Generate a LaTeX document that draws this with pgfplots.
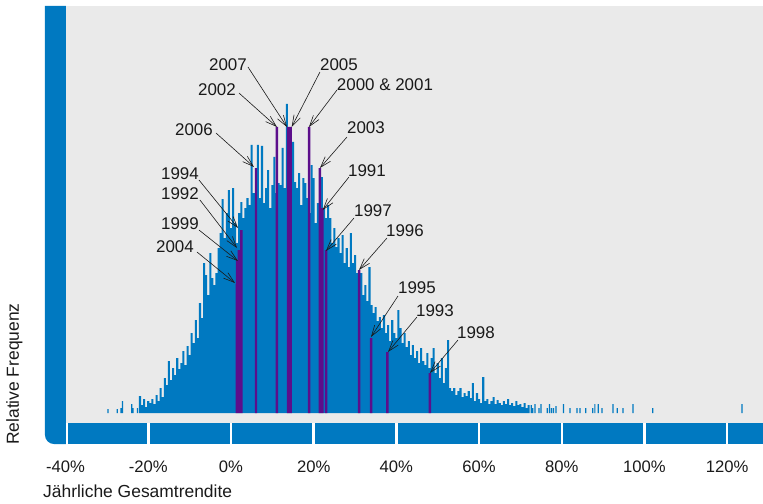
\documentclass[border=0pt]{standalone}
\usepackage{fontspec}
\setmainfont{Liberation Sans}
\usepackage{pgfplots}
\usepackage{pgfplotstable}
\pgfplotsset{compat=1.18}
\usetikzlibrary{arrows.meta}
\definecolor{barblue}{RGB}{0,121,193}
\definecolor{barpurple}{RGB}{92,14,139}
\definecolor{bggray}{RGB}{234,234,234}
\definecolor{txt}{RGB}{26,26,26}

\pgfplotstableread{
x y
-22.0 17
-21.5 8
-21.0 14
-20.5 6
-20.0 12
-19.5 10
-19.0 14
-18.5 9
-18.0 18
-17.5 12
-17.0 25
-16.5 16
-16.0 35
-15.5 28
-15.0 52
-14.5 33
-14.0 45
-13.5 38
-13.0 55
-12.5 44
-12.0 50
-11.5 62
-11.0 48
-10.5 67
-10.0 58
-9.5 80
-9.0 70
-8.5 93
-8.0 75
-7.5 110
-7.0 95
-6.5 150
-6.0 138
-5.5 118
-5.0 160
-4.5 135
-4.0 128
-3.5 140
-3.0 165
-2.5 180
-2.0 214
-1.5 175
-1.0 200
-0.5 223
0.0 185
0.5 225
1.0 190
1.5 170
2.0 200
2.5 211
3.0 195
3.5 205
4.0 215
4.5 208
5.0 268
5.5 220
6.0 200
6.5 268
7.0 215
7.5 267
8.0 210
8.5 225
9.0 243
9.5 205
10.0 228
10.5 256
11.0 220
11.5 230
12.0 228
12.5 265
13.0 225
13.5 309
14.0 230
14.5 240
15.0 271
15.5 231
16.0 225
16.5 240
17.0 208
17.5 235
18.0 230
18.5 215
19.0 200
19.5 248
20.0 235
20.5 190
21.0 210
21.5 200
22.0 236
22.5 205
23.0 195
23.5 208
24.0 195
24.5 170
25.0 185
25.5 166
26.0 175
26.5 160
27.0 178
27.5 150
28.0 165
28.5 146
29.0 180
29.5 150
30.0 158
30.5 140
31.0 135
31.5 140
32.0 118
32.5 128
33.0 112
33.5 146
34.0 108
34.5 100
35.0 106
35.5 92
36.0 96
36.5 85
37.0 98
37.5 80
38.0 88
38.5 72
39.0 93
39.5 80
40.0 75
40.5 103
41.0 85
41.5 70
42.0 80
42.5 66
43.0 72
43.5 58
44.0 68
44.5 55
45.0 62
45.5 50
46.0 65
46.5 52
47.0 48
47.5 60
48.0 45
48.5 55
49.0 65
49.5 40
50.0 50
50.5 35
51.0 55
51.5 30
52.0 45
52.5 73
53.0 25
53.5 22
54.0 25
54.5 18
55.0 22
55.5 25
56.0 16
56.5 20
57.0 17
57.5 22
58.0 15
58.5 30
59.0 12
59.5 20
60.0 14
60.5 10
61.0 36
61.5 12
62.0 14
62.5 9
63.0 12
63.5 16
64.0 9
64.5 13
65.0 10
65.5 8
66.0 12
66.5 9
67.0 14
67.5 8
68.0 10
68.5 7
69.0 12
69.5 8
70.0 9
70.5 6
71.0 10
71.5 5
72.0 8
}\bluedata

\pgfplotstableread{
x y
-29.75 4
-27.5 4
-26.6 5
-26.25 12
-24.0 9
-23.7 5
-22.6 5
72.6 8
73.0 5
73.5 9
74.5 5
75.0 9
76.5 5
77.0 9
77.5 5
78.0 5
78.6 7
80.4 9
82.0 5
83.7 5
84.4 5
85.8 5
87.5 5
88.0 9
88.8 9
89.7 5
92.4 9
93.4 5
94.8 5
97.2 9
102.0 5
123.6 9
}\sparsedata

\pgfplotstableread{
x y
1.45 129
1.5 153
1.9 163
2.5 183
6.05 245
11.1 286
13.8 286
14.4 286
18.9 286
21.5 245
22.1 205
23.0 163
31.0 143
33.9 75
37.8 61
48.1 40
}\purpledata

\begin{document}
\begin{tikzpicture}
\begin{axis}[
  scale only axis, width=697.4bp, height=417bp,
  xmin=-40, xmax=128.66, ymin=-10, ymax=407,
  axis background/.style={fill=bggray},
  axis line style={draw=none}, tick style={draw=none},
  ytick=\empty,
  xtick={-40,-20,...,120},
  xticklabels={-40\%,-20\%,0\%,20\%,40\%,60\%,80\%,100\%,120\%},
  xticklabel style={anchor=base, yshift=-45bp, font=\fontsize{16.7}{18}\selectfont, text=txt},
  clip=false,
  ybar,
]
\addplot[fill=barblue, draw=none, bar width=0.5, bar shift=0pt] table {\bluedata};
\addplot[fill=barblue, draw=none, bar width=0.3, bar shift=0pt] table {\sparsedata};
\addplot[fill=barpurple, draw=none, bar width=0.6, bar shift=0pt] table {\purpledata};

% left bar (rounded bottom-left corner) and bottom bar
\fill[barblue] (axis cs:-39.9,407) -- (axis cs:-44.98,407) -- ([yshift=9bp]axis cs:-44.98,-31) arc[start angle=180, end angle=270, radius=9bp] -- (axis cs:-39.9,-31) -- cycle;
\fill[barblue] (axis cs:-39.5,-10) rectangle (axis cs:-20.3,-31);
\fill[barblue] (axis cs:-19.7,-10) rectangle (axis cs:-0.3,-31);
\fill[barblue] (axis cs:0.3,-10) rectangle (axis cs:19.7,-31);
\fill[barblue] (axis cs:20.3,-10) rectangle (axis cs:39.7,-31);
\fill[barblue] (axis cs:40.3,-10) rectangle (axis cs:59.7,-31);
\fill[barblue] (axis cs:60.3,-10) rectangle (axis cs:79.7,-31);
\fill[barblue] (axis cs:80.3,-10) rectangle (axis cs:99.7,-31);
\fill[barblue] (axis cs:100.3,-10) rectangle (axis cs:119.7,-31);
\fill[barblue] (axis cs:120.3,-10) rectangle (axis cs:128.66,-31);

% axis labels
\node[rotate=90, anchor=base west, inner sep=0pt, font=\fontsize{17.5}{19}\selectfont, text=txt] at (axis cs:-51.27,-32) {Relative Frequenz};
\node[anchor=base west, inner sep=0pt, font=\fontsize{17.5}{19}\selectfont, text=txt] at (axis cs:-45.47,-84) {Jährliche Gesamtrendite};

% annotations
\tikzset{ann/.style={font=\fontsize{17}{19}\selectfont, text=txt, inner sep=0pt},
         arr/.style={draw=txt, line width=0.6bp, -{Straight Barb[length=11bp,width=7bp]}}}
\node[ann] at (axis cs:-0.73,348) {2007};
\draw[arr] (axis cs:4.11,346) -- (axis cs:13.54,286);
\node[ann] at (axis cs:-3.39,323) {2002};
\draw[arr] (axis cs:1.93,320) -- (axis cs:11.12,286);
\node[ann] at (axis cs:26.12,348) {2005};
\draw[arr] (axis cs:21.52,341) -- (axis cs:14.68,286);
\node[ann] at (axis cs:37.24,328) {2000 \& 2001};
\draw[arr] (axis cs:25.63,323) -- (axis cs:18.86,286);
\node[ann] at (axis cs:-8.95,283) {2006};
\draw[arr] (axis cs:-3.63,280) -- (axis cs:5.56,246);
\node[ann] at (axis cs:32.65,285) {2003};
\draw[arr] (axis cs:28.05,276) -- (axis cs:21.52,245);
\node[ann] at (axis cs:32.89,242) {1991};
\draw[arr] (axis cs:28.54,236) -- (axis cs:22.18,203);
\node[ann] at (axis cs:34.34,202) {1997};
\draw[arr] (axis cs:29.75,195) -- (axis cs:22.97,162);
\node[ann] at (axis cs:42.08,182) {1996};
\draw[arr] (axis cs:37.73,175) -- (axis cs:30.96,143);
\node[ann] at (axis cs:44.98,125) {1995};
\draw[arr] (axis cs:40.39,117) -- (axis cs:33.86,76);
\node[ann] at (axis cs:49.33,102) {1993};
\draw[arr] (axis cs:44.98,96) -- (axis cs:37.97,61);
\node[ann] at (axis cs:59.25,80) {1998};
\draw[arr] (axis cs:54.9,73) -- (axis cs:48.13,40);
\node[ann] at (axis cs:-12.33,239) {1994};
\draw[arr] (axis cs:-7.74,233) -- (axis cs:1.69,185);
\node[ann] at (axis cs:-12.33,219) {1992};
\draw[arr] (axis cs:-7.5,213) -- (axis cs:1.45,165);
\node[ann] at (axis cs:-12.33,189) {1999};
\draw[arr] (axis cs:-7.74,183) -- (axis cs:1.69,152);
\node[ann] at (axis cs:-13.54,166) {2004};
\draw[arr] (axis cs:-8.22,161) -- (axis cs:0.97,130);

% page extent
\path (axis cs:-55.86,-90) rectangle (axis cs:128.66,413);
\end{axis}
\end{tikzpicture}
\end{document}
